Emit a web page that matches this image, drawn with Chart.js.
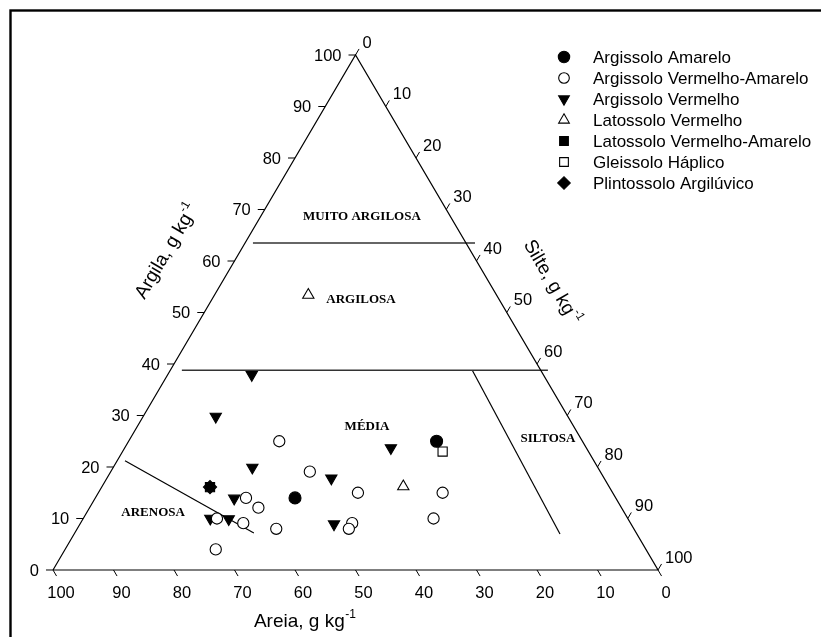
<!DOCTYPE html>
<html>
<head>
<meta charset="utf-8">
<script src="https://cdn.jsdelivr.net/npm/chart.js@4.4.1/dist/chart.umd.min.js"></script>
<style>
  html, body { margin: 0; padding: 0; background: #fff; }
  #wrap { width: 821px; height: 637px; position: relative; }
</style>
</head>
<body>
<div id="wrap"><canvas id="c" width="821" height="637"></canvas></div>
<script>
// Particle-size fractions per soil class, in percent (sand = Areia, clay = Argila; silt = 100 - sand - clay)
const argAmareloSand = [53.0, 24.1];
const argAmareloClay = [14.0, 25.0];

const argVermAmareloSand = [50.1, 48.0, 42.1, 61.1, 60.0, 67.9, 64.0, 59.1, 46.0, 47.1, 71.1, 28.1, 32.1];
const argVermAmareloClay = [25.0, 19.1, 15.0, 14.0, 12.1, 10.0, 9.1, 8.0, 9.1, 8.0, 4.0, 15.0, 10.0];

const argVermelhoSand = [58.2, 48.2, 57.1, 45.1, 63.1, 69.0, 66.0, 49.1, 32.3];
const argVermelhoClay = [29.8, 37.9, 19.9, 17.8, 13.9, 10.0, 9.9, 8.9, 23.7];

const latVermelhoSand = [31.1, 34.0];
const latVermelhoClay = [53.4, 16.2];

const latVermAmareloSand = [66.0];
const latVermAmareloClay = [16.1];

const gleissoloSand = [24.1];
const gleissoloClay = [23.0];

const plintossoloSand = [66.0];
const plintossoloClay = [16.1];

const classNames = [
  'Argissolo Amarelo',
  'Argissolo Vermelho-Amarelo',
  'Argissolo Vermelho',
  'Latossolo Vermelho',
  'Latossolo Vermelho-Amarelo',
  'Gleissolo Háplico',
  'Plintossolo Argilúvico'
];

// Axis tick values (same for the three sides)
const tickValues = [0, 10, 20, 30, 40, 50, 60, 70, 80, 90, 100];

// Texture class boundaries as [sand, clay] end points
const boundaryUpper   = [[35.2, 63.5], [-1.5, 63.5]];
const boundaryLower   = [[59.3, 38.8], [-1.2, 38.8]];
const boundarySilt    = [[11.3, 38.8], [12.7, 7.0]];
const boundarySand    = [[77.5, 21.2], [63.2, 7.2]];

// Texture class names and their anchor in [sand, clay]
const zoneNames  = ['MUITO ARGILOSA', 'ARGILOSA', 'MÉDIA', 'SILTOSA', 'ARENOSA'];
const zoneAnchor = [[14.6, 68.7], [22.9, 52.4], [34.2, 27.8], [5.4, 25.6], [77.9, 11.1]];

// ternary (sand, clay) -> cartesian data space: bottom edge spans x 0..100, height in clay units
function toXY(sand, clay) {
  return { x: 100 - sand - clay / 2, y: clay };
}
function pts(sand, clay) {
  return sand.map((s, i) => toXY(s, clay[i]));
}
function seg(pair) {
  return pair.map(p => toXY(p[0], p[1]));
}

const BLACK = '#000';
const SANS = "'Liberation Sans', Arial, sans-serif";
const SERIF = "'Liberation Serif', 'Times New Roman', serif";

const markerStyles = [
  { pointStyle: 'circle',   radius: 6.0, fill: BLACK,  rotation: 0 },
  { pointStyle: 'circle',   radius: 5.6, fill: '#fff', rotation: 0 },
  { pointStyle: 'triangle', radius: 6.5, fill: BLACK,  rotation: 180 },
  { pointStyle: 'triangle', radius: 6.5, fill: '#fff', rotation: 0 },
  { pointStyle: 'rect',     radius: 6.5, fill: BLACK,  rotation: 0 },
  { pointStyle: 'rect',     radius: 6.5, fill: '#fff', rotation: 0 },
  { pointStyle: 'rectRot',  radius: 6.6, fill: BLACK,  rotation: 0 }
];

const seriesPoints = [
  pts(argAmareloSand, argAmareloClay),
  pts(argVermAmareloSand, argVermAmareloClay),
  pts(argVermelhoSand, argVermelhoClay),
  pts(latVermelhoSand, latVermelhoClay),
  pts(latVermAmareloSand, latVermAmareloClay),
  pts(gleissoloSand, gleissoloClay),
  pts(plintossoloSand, plintossoloClay)
];

function lineSet(data, color, width) {
  return {
    type: 'scatter', data, showLine: true, borderColor: color, borderWidth: width,
    pointRadius: 0, fill: false, tension: 0, order: 10
  };
}

const datasets = [
  lineSet([toXY(100, 0), toXY(0, 100), toXY(0, 0), toXY(100, 0)], BLACK, 1.2),
  lineSet(seg(boundaryUpper), '#333', 1.6),
  lineSet(seg(boundaryLower), '#333', 1.6),
  lineSet(seg(boundarySilt), BLACK, 1.2),
  lineSet(seg(boundarySand), BLACK, 1.2)
];
seriesPoints.forEach((data, i) => {
  const m = markerStyles[i];
  datasets.push({
    label: classNames[i], data, showLine: false,
    pointStyle: m.pointStyle, pointRadius: m.radius, pointRotation: m.rotation,
    pointBackgroundColor: m.fill, pointBorderColor: BLACK, pointBorderWidth: 1.1,
    order: 1
  });
});

// draw text with a superscript tail, centered on (0,0) of the current transform
function drawWithSup(ctx, main, sup, size) {
  ctx.font = size + 'px ' + SANS;
  const w1 = ctx.measureText(main).width;
  const supSize = Math.round(size * 0.62);
  ctx.font = supSize + 'px ' + SANS;
  const w2 = ctx.measureText(sup).width;
  const total = w1 + w2;
  ctx.textBaseline = 'middle';
  ctx.textAlign = 'left';
  ctx.font = size + 'px ' + SANS;
  ctx.fillText(main, -total / 2, 0);
  ctx.font = supSize + 'px ' + SANS;
  ctx.fillText(sup, -total / 2 + w1 + 0.5, -size * 0.38);
}

const ternaryDecor = {
  id: 'ternaryDecor',
  afterDraw(chart) {
    const ctx = chart.ctx;
    const xs = chart.scales.x, ys = chart.scales.y;
    const px = p => [xs.getPixelForValue(p.x), ys.getPixelForValue(p.y)];
    ctx.save();

    // outer frame
    ctx.strokeStyle = BLACK;
    ctx.lineWidth = 2.4;
    ctx.strokeRect(10.5, 10.5, 830, 650);

    ctx.lineWidth = 1;
    ctx.fillStyle = BLACK;
    const tickFont = '16.5px ' + SANS;
    const tlen = 7;
    // unit directions of the side extensions
    const [ax, ay] = px(toXY(100, 0));
    const [bx, by] = px(toXY(0, 100));
    const [cx, cy] = px(toXY(0, 0));
    const L = Math.hypot(cx - bx, cy - by);
    const dR = [(cx - bx) / L, (cy - by) / L];       // along right side, downward
    const dLup = [(bx - ax) / L, (by - ay) / L];     // along left side, upward

    tickValues.forEach(v => {
      // sand ticks on the bottom side
      let [x, y] = px(toXY(v, 0));
      ctx.beginPath(); ctx.moveTo(x, y); ctx.lineTo(x + dR[0] * tlen, y + dR[1] * tlen); ctx.stroke();
      ctx.font = tickFont; ctx.textAlign = 'center'; ctx.textBaseline = 'middle';
      ctx.fillText(String(v), x + 8, y + 23);

      // clay ticks on the left side
      [x, y] = px(toXY(100 - v, v));
      ctx.beginPath(); ctx.moveTo(x, y); ctx.lineTo(x - tlen, y); ctx.stroke();
      ctx.textAlign = 'right';
      ctx.fillText(String(v), x - 14, y + 1);

      // silt ticks on the right side
      [x, y] = px(toXY(0, 100 - v));
      ctx.beginPath(); ctx.moveTo(x, y); ctx.lineTo(x + dLup[0] * tlen, y + dLup[1] * tlen); ctx.stroke();
      ctx.textAlign = 'left';
      ctx.fillText(String(v), x + 7, y - 12);
    });

    // texture class names
    ctx.font = 'bold 13px ' + SERIF;
    ctx.textAlign = 'center'; ctx.textBaseline = 'middle';
    zoneNames.forEach((name, i) => {
      const [x, y] = px(toXY(zoneAnchor[i][0], zoneAnchor[i][1]));
      ctx.fillText(name, x, y);
    });

    // axis titles
    const leftAngle = Math.atan2(by - ay, bx - ax);
    const rightAngle = Math.atan2(cy - by, cx - bx);
    let [tx, ty] = px({ x: 18.8, y: 61.8 });
    ctx.save(); ctx.translate(tx, ty); ctx.rotate(leftAngle);
    drawWithSup(ctx, 'Argila, g kg', '-1', 19); ctx.restore();

    [tx, ty] = px({ x: 82.4, y: 55.9 });
    ctx.save(); ctx.translate(tx, ty); ctx.rotate(rightAngle);
    drawWithSup(ctx, 'Silte, g kg', '-1', 19); ctx.restore();

    [tx, ty] = px({ x: 41.6, y: -10.1 });
    ctx.save(); ctx.translate(tx, ty);
    drawWithSup(ctx, 'Areia, g kg', '-1', 19); ctx.restore();

    // legend
    const lgMarkX = 564, lgTextX = 593, lgTop = 57, lgStep = 21;
    classNames.forEach((name, i) => {
      const m = markerStyles[i];
      const y = lgTop + i * lgStep;
      ctx.fillStyle = m.fill; ctx.strokeStyle = BLACK; ctx.lineWidth = 1.1;
      Chart.helpers.drawPoint(ctx, {
        pointStyle: m.pointStyle, radius: m.radius * 0.95, rotation: m.rotation, borderWidth: 1.1
      }, lgMarkX, y);
      ctx.fillStyle = BLACK;
      ctx.font = '17px ' + SANS;
      ctx.textAlign = 'left'; ctx.textBaseline = 'middle';
      ctx.fillText(name, lgTextX, y + 1);
    });
    ctx.restore();
  }
};

new Chart(document.getElementById('c'), {
  type: 'scatter',
  data: { datasets },
  options: {
    responsive: false,
    animation: false,
    events: [],
    layout: { padding: 0, autoPadding: false },
    scales: {
      x: { type: 'linear', display: false, min: -8.760, max: 126.94 },
      y: { type: 'linear', display: false, min: -13.01, max: 110.68 }
    },
    plugins: { legend: { display: false }, tooltip: { enabled: false } }
  },
  plugins: [ternaryDecor]
});
</script>
</body>
</html>
